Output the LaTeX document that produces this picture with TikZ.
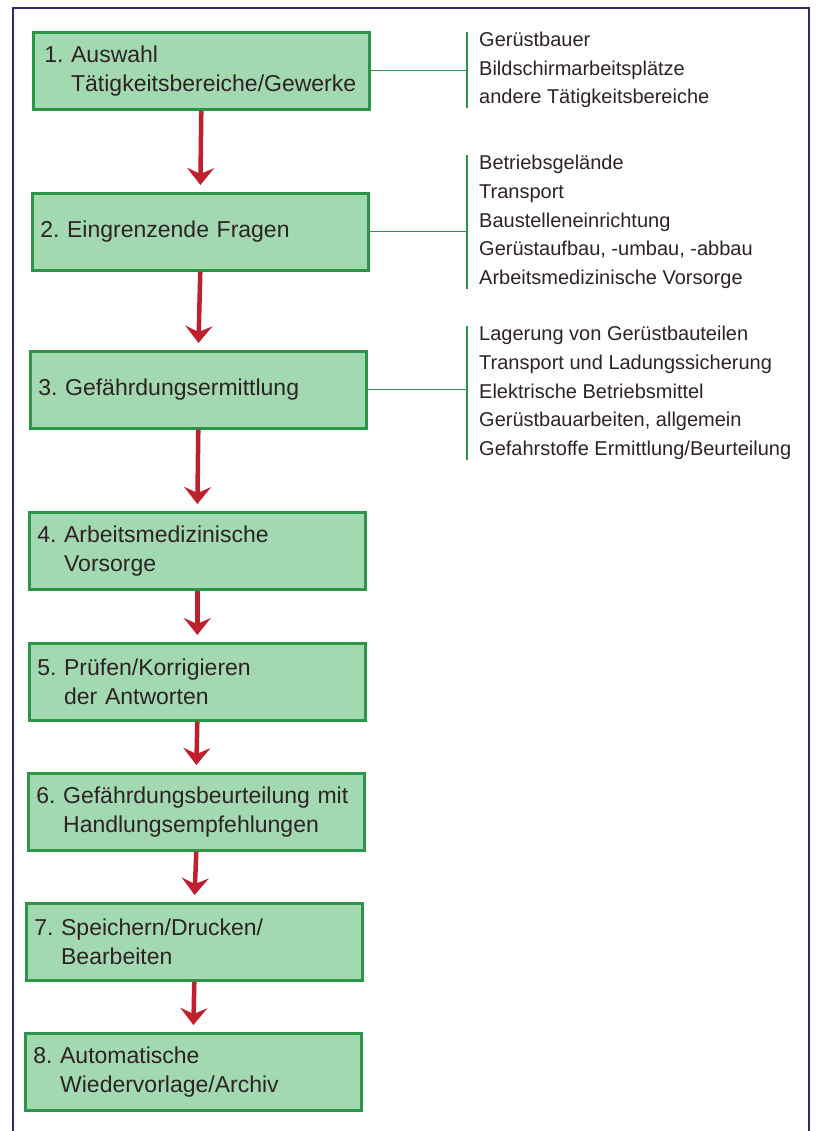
\documentclass[tikz,border=0pt]{standalone}
\usepackage{fontspec}
\setmainfont{Liberation Sans}
\usetikzlibrary{arrows.meta}
\frenchspacing

\definecolor{boxfill}{RGB}{163,217,176}
\definecolor{boxline}{RGB}{44,150,72}
\definecolor{arrowred}{RGB}{190,32,46}
\definecolor{framenavy}{RGB}{46,42,112}
\definecolor{inkdark}{RGB}{45,35,38}

\tikzset{
	stepbox/.style={draw=boxline, fill=boxfill, line width=2.6pt,
		anchor=north west, minimum width=336pt, minimum height=77pt,
		text width=320pt, inner xsep=8pt, inner ysep=0pt, align=left,
		text=inkdark, font=\fontsize{23}{29}\selectfont\frenchspacing},
	itemlist/.style={anchor=west, align=left, inner xsep=12pt, inner ysep=0pt,
		text=inkdark, font=\fontsize{20}{28.8}\selectfont},
	flowarrow/.style={draw=arrowred, line width=4.5pt, shorten >=7pt,
		-{Stealth[length=17pt, width=27pt, inset=6pt]}},
	bracket/.style={draw=boxline, line width=1.3pt}
}

\begin{document}
\begin{tikzpicture}[x=1pt, y=-1pt]
	\useasboundingbox (0,0) rectangle (815,1131);
	% Frame
	\draw[framenavy, line width=2.6pt] (13,1131) -- (13,8) -- (809,8) -- (809,1131);
	% Steps
	\node[stepbox] (s1) at (32,31) {\hspace*{3pt}1. Auswahl\\\hspace*{3pt}\phantom{1. }Tätigkeitsbereiche/Gewerke};
	\node[stepbox] (s2) at (31,192) {2. Eingrenzende Fragen};
	\node[stepbox] (s3) at (29,350) {3. Gefährdungsermittlung};
	\node[stepbox] (s4) at (28,511) {4. Arbeitsmedizinische\\\phantom{4. }Vorsorge};
	\node[stepbox] (s5) at (28,642) {5. Prüfen/Korrigieren\\\phantom{5. }der Antworten};
	\node[stepbox] (s6) at (27,772) {6. Gefährdungsbeurteilung mit\\\phantom{6. }Handlungsempfehlungen};
	\node[stepbox] (s7) at (25,902) {7. Speichern/Drucken/\\\phantom{7. }Bearbeiten};
	\node[stepbox] (s8) at (24,1032) {8. Automatische\\\phantom{8. }Wiedervorlage/Archiv};
	% Arrows between steps
	\foreach \a/\b in {s1/s2, s2/s3, s3/s4, s4/s5, s5/s6, s6/s7, s7/s8}
		\draw[flowarrow] (\a.south) -- (\b.north);
	% Item lists
	\node[itemlist] (l1) at (467,70) {Gerüstbauer\\Bildschirmarbeitsplätze\\andere Tätigkeitsbereiche};
	\node[itemlist] (l2) at (467,222) {Betriebsgelände\\Transport\\Baustelleneinrichtung\\Gerüstaufbau, -umbau, -abbau\\Arbeitsmedizinische Vorsorge};
	\node[itemlist] (l3) at (467,393) {Lagerung von Gerüstbauteilen\\Transport und Ladungssicherung\\Elektrische Betriebsmittel\\Gerüstbauarbeiten, allgemein\\Gefahrstoffe Ermittlung/Beurteilung};
	% Brackets
	\foreach \s/\l in {s1/l1, s2/l2, s3/l3} {
		\draw[bracket] (\l.north west) -- (\l.south west);
		\draw[bracket] (\s.east) -- (\s.east -| \l.west);
	}
\end{tikzpicture}
\end{document}
